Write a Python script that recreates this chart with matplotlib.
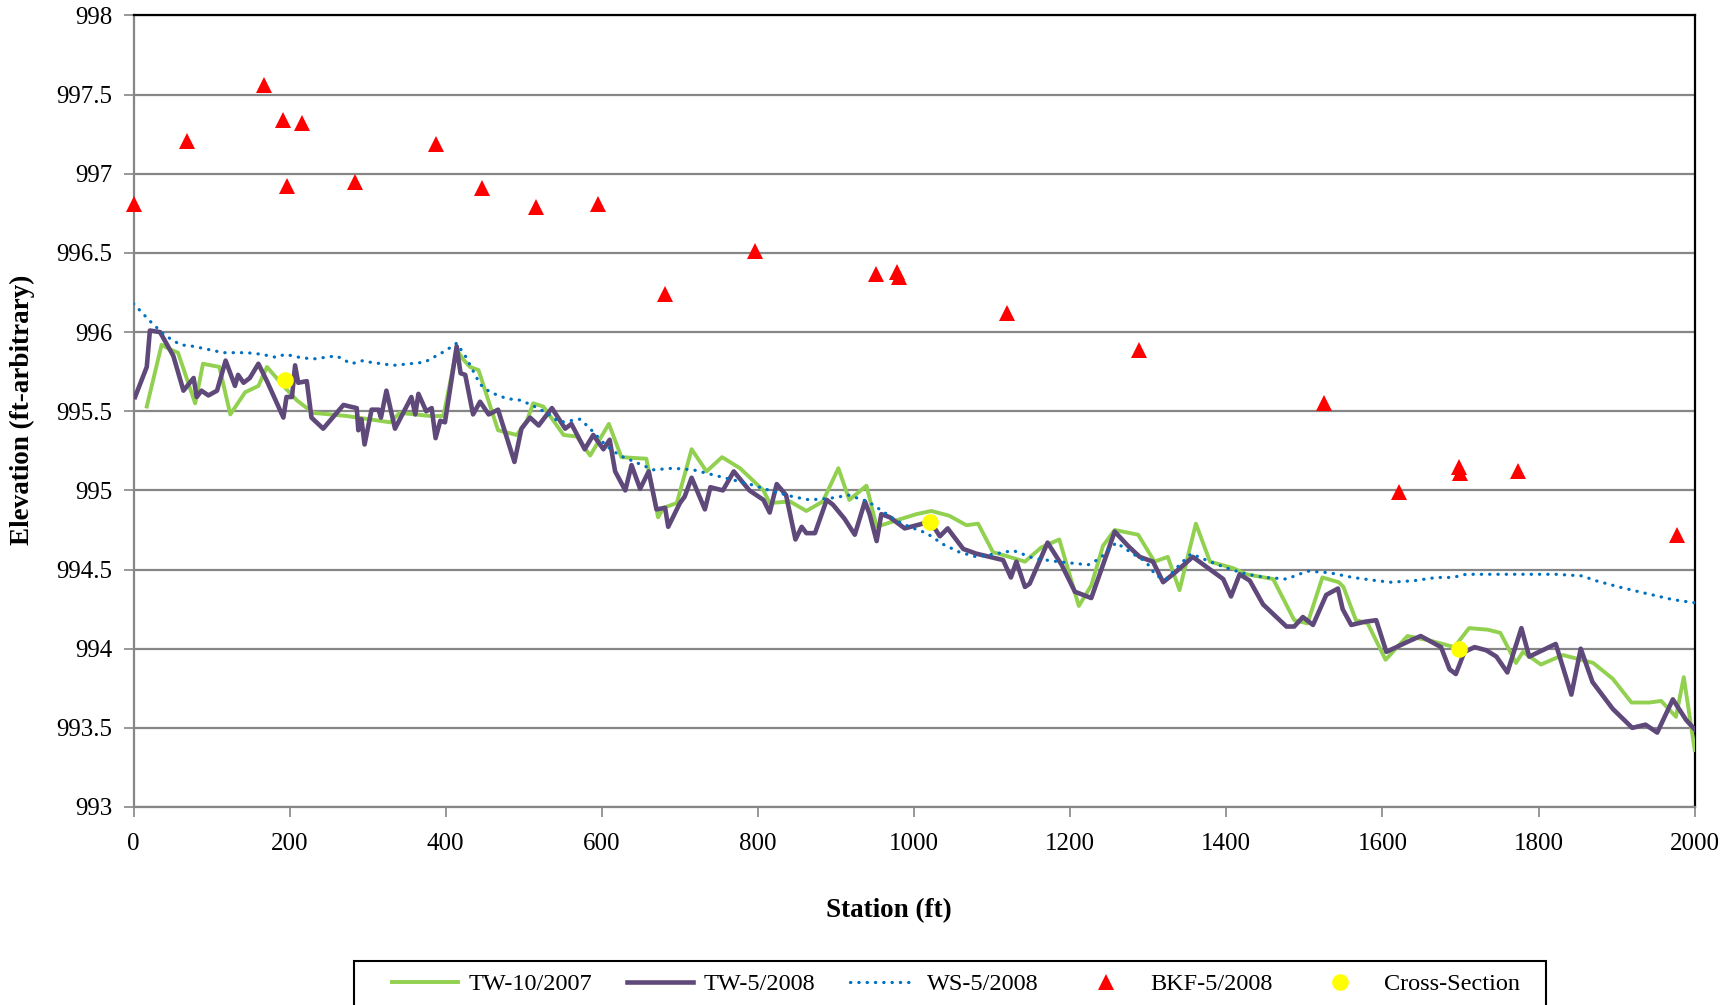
import matplotlib
matplotlib.use("Agg")
import matplotlib.pyplot as plt
from matplotlib.patches import Rectangle
from matplotlib.ticker import FormatStrFormatter

plt.rcParams['font.family'] = ['Liberation Serif', 'DejaVu Serif']

# ---------------- data ----------------
tw2007_sta = [17, 36, 47, 57, 79, 89, 110, 124, 143, 160, 171, 192, 209, 230, 273, 329, 341, 380,
              397, 414, 422, 431, 442, 467, 491, 504, 512, 525, 551, 568, 585, 609, 625, 657, 672,
              679, 696, 715, 734, 754, 777, 807, 815, 841, 862, 883, 903, 917, 939, 952, 977, 1003,
              1022, 1045, 1067, 1082, 1101, 1122, 1142, 1163, 1186, 1211, 1227, 1242, 1257, 1287,
              1308, 1325, 1340, 1361, 1379, 1408, 1426, 1460, 1487, 1504, 1523, 1544, 1550, 1566,
              1581, 1604, 1632, 1662, 1692, 1711, 1735, 1751, 1771, 1780, 1803, 1831, 1870, 1895,
              1919, 1942, 1957, 1976, 1986, 2000]
tw2007_elev = [995.53, 995.92, 995.89, 995.87, 995.55, 995.80, 995.78, 995.48, 995.62, 995.66, 995.78,
               995.66, 995.57, 995.49, 995.47, 995.43, 995.49, 995.47, 995.47, 995.89, 995.83, 995.78,
               995.76, 995.38, 995.35, 995.44, 995.55, 995.53, 995.35, 995.34, 995.22, 995.42, 995.21,
               995.20, 994.83, 994.89, 994.92, 995.26, 995.12, 995.21, 995.14, 995.00, 994.92, 994.93,
               994.87, 994.93, 995.14, 994.94, 995.03, 994.77, 994.81, 994.85, 994.87, 994.84, 994.78,
               994.79, 994.61, 994.58, 994.55, 994.64, 994.69, 994.27, 994.40, 994.65, 994.75, 994.72,
               994.55, 994.58, 994.37, 994.79, 994.55, 994.51, 994.47, 994.44, 994.18, 994.16, 994.45,
               994.42, 994.39, 994.18, 994.16, 993.93, 994.08, 994.05, 994.01, 994.13, 994.12, 994.10,
               993.91, 993.98, 993.90, 993.96, 993.91, 993.81, 993.66, 993.66, 993.67, 993.57, 993.82,
               993.36]

tw2008_sta = [2, 17, 21, 34, 51, 64, 77, 81, 87, 96, 107, 118, 130, 134, 141, 149, 160, 171, 192, 196,
              203, 207, 211, 222, 228, 243, 269, 277, 286, 288, 292, 296, 305, 314, 317, 324, 335, 356,
              361, 365, 375, 382, 387, 393, 399, 414, 419, 425, 435, 444, 455, 467, 488, 497, 508, 519,
              536, 553, 561, 578, 589, 602, 610, 617, 630, 638, 649, 660, 670, 681, 685, 700, 706, 715,
              732, 739, 755, 769, 789, 807, 815, 824, 836, 848, 856, 862, 873, 888, 896, 911, 924, 937,
              943, 952, 958, 969, 988, 1011, 1020, 1033, 1043, 1063, 1080, 1097, 1114, 1124, 1131, 1142,
              1148, 1171, 1189, 1206, 1227, 1257, 1274, 1289, 1306, 1319, 1334, 1357, 1396, 1406, 1417,
              1430, 1447, 1477, 1487, 1498, 1511, 1528, 1543, 1549, 1560, 1577, 1592, 1605, 1635, 1649,
              1675, 1686, 1694, 1705, 1718, 1733, 1746, 1760, 1778, 1788, 1822, 1842, 1854, 1869, 1895,
              1920, 1937, 1952, 1972, 1989, 2000]
tw2008_elev = [995.59, 995.78, 996.01, 996.00, 995.85, 995.63, 995.71, 995.59, 995.63, 995.60, 995.63,
               995.82, 995.66, 995.73, 995.68, 995.71, 995.80, 995.69, 995.46, 995.59, 995.59, 995.79,
               995.68, 995.69, 995.46, 995.39, 995.54, 995.53, 995.52, 995.38, 995.45, 995.29, 995.51,
               995.51, 995.46, 995.63, 995.39, 995.59, 995.48, 995.61, 995.50, 995.52, 995.33, 995.44,
               995.43, 995.91, 995.74, 995.73, 995.48, 995.56, 995.48, 995.51, 995.18, 995.39, 995.46,
               995.41, 995.52, 995.39, 995.42, 995.26, 995.35, 995.26, 995.32, 995.12, 995.00, 995.16,
               995.01, 995.12, 994.88, 994.89, 994.77, 994.92, 994.96, 995.08, 994.88, 995.02, 995.00,
               995.12, 995.00, 994.94, 994.86, 995.04, 994.97, 994.69, 994.77, 994.73, 994.73, 994.94,
               994.91, 994.82, 994.72, 994.93, 994.85, 994.68, 994.85, 994.83, 994.76, 994.79, 994.81,
               994.71, 994.76, 994.63, 994.60, 994.58, 994.56, 994.45, 994.55, 994.39, 994.41, 994.67,
               994.53, 994.36, 994.32, 994.74, 994.65, 994.58, 994.55, 994.42, 994.48, 994.58, 994.44,
               994.33, 994.47, 994.43, 994.28, 994.14, 994.14, 994.20, 994.15, 994.34, 994.38, 994.25,
               994.15, 994.17, 994.18, 993.98, 994.05, 994.08, 994.01, 993.87, 993.84, 993.98, 994.01,
               993.99, 993.95, 993.85, 994.13, 993.95, 994.03, 993.71, 994.00, 993.79, 993.62, 993.50,
               993.52, 993.47, 993.68, 993.55, 993.49]

ws2008_sta = [0, 21, 40, 60, 77, 96, 115, 145, 164, 183, 194, 213, 230, 260, 279, 294, 303, 333, 354,
              373, 399, 414, 425, 444, 457, 478, 495, 510, 529, 546, 572, 583, 606, 623, 647, 666, 691,
              717, 749, 789, 815, 845, 866, 892, 917, 928, 941, 956, 977, 994, 1016, 1037, 1058, 1080,
              1105, 1127, 1154, 1184, 1223, 1238, 1259, 1280, 1297, 1310, 1323, 1340, 1355, 1374, 1400,
              1426, 1451, 1477, 1504, 1532, 1562, 1592, 1611, 1641, 1669, 1690, 1707, 1737, 1780, 1822,
              1856, 1873, 1903, 1937, 1972, 2000]
ws2008_elev = [996.18, 996.07, 995.98, 995.92, 995.91, 995.89, 995.87, 995.87, 995.86, 995.84, 995.86,
               995.84, 995.83, 995.85, 995.80, 995.82, 995.81, 995.79, 995.80, 995.81, 995.88, 995.93,
               995.85, 995.67, 995.62, 995.58, 995.57, 995.54, 995.49, 995.43, 995.45, 995.40, 995.28,
               995.22, 995.17, 995.13, 995.14, 995.13, 995.09, 995.04, 995.00, 994.96, 994.94, 994.95,
               994.97, 994.95, 994.93, 994.88, 994.81, 994.77, 994.73, 994.66, 994.61, 994.58, 994.60,
               994.62, 994.57, 994.55, 994.53, 994.57, 994.67, 994.60, 994.55, 994.46, 994.44, 994.53,
               994.60, 994.56, 994.51, 994.47, 994.45, 994.44, 994.49, 994.48, 994.45, 994.43, 994.42,
               994.43, 994.45, 994.45, 994.47, 994.47, 994.47, 994.47, 994.46, 994.43, 994.39, 994.35,
               994.31, 994.29]

bkf_sta = [1, 68, 167, 192, 197, 216, 284, 387, 447, 515, 595, 681, 796, 951, 978, 981, 1119, 1288,
           1525, 1621, 1698, 1699, 1774, 1977]
bkf_elev = [996.81, 997.21, 997.56, 997.34, 996.92, 997.32, 996.95, 997.19, 996.91, 996.79, 996.81,
            996.24, 996.51, 996.37, 996.38, 996.35, 996.12, 995.89, 995.55, 994.99, 995.15, 995.11,
            995.12, 994.72]

xs_sta = [194, 1021, 1698]
xs_elev = [995.70, 994.80, 994.00]

x_ticks = list(range(0, 2001, 200))
y_ticks = [993, 993.5, 994, 994.5, 995, 995.5, 996, 996.5, 997, 997.5, 998]

# ---------------- figure ----------------
W, H = 1730, 1005
fig = plt.figure(figsize=(W / 100, H / 100), dpi=100)
L, R, T, B = 133.5, 1694.7, 15.5, 807
ax = fig.add_axes([L / W, 1 - B / H, (R - L) / W, (B - T) / H])

grid_c = '#868686'
ax.set_xlim(0, 2000)
ax.set_ylim(993, 998)
ax.set_yticks(y_ticks)
ax.set_xticks(x_ticks)
ax.yaxis.set_major_formatter(FormatStrFormatter('%g'))
ax.grid(axis='y', color=grid_c, linewidth=1.6, zorder=0)
ax.set_axisbelow(True)

for side in ['top', 'right']:
    ax.spines[side].set_color('black')
    ax.spines[side].set_linewidth(1.6)
for side in ['left', 'bottom']:
    ax.spines[side].set_color(grid_c)
    ax.spines[side].set_linewidth(1.6)

ax.tick_params(axis='both', direction='out', length=7, width=1.2, color=grid_c,
               labelsize=18, labelcolor='black')
ax.tick_params(axis='y', pad=8)
ax.tick_params(axis='x', pad=12)

ax.plot(tw2007_sta, tw2007_elev, color='#92D050', linewidth=2.8, label='TW-10/2007',
        zorder=3)
ax.plot(tw2008_sta, tw2008_elev, color='#5F497A', linewidth=3.3, label='TW-5/2008',
        zorder=4)
ax.plot(ws2008_sta, ws2008_elev, color='#0070C0', linewidth=2.3, linestyle=(0, (0.1, 2.5)),
        dash_capstyle='round', label='WS-5/2008', zorder=5)
ax.plot(bkf_sta, bkf_elev, linestyle='none', marker='^', markersize=11, color='#FF0000',
        markeredgewidth=0, label='BKF-5/2008', zorder=6, clip_on=False)
ax.plot(xs_sta, xs_elev, linestyle='none', marker='o', markersize=12, color='#FFFF00',
        markeredgewidth=0, label='Cross-Section', zorder=7)

fig.text(889 / W, 1 - 911 / H, 'Station (ft)', ha='center', va='center',
         fontsize=19.5, fontweight='bold')
fig.text(22 / W, 1 - 410 / H, 'Elevation (ft-arbitrary)', ha='center', va='center',
         rotation=90, fontsize=19.5, fontweight='bold')

# legend frame (extends past the bottom edge, as in the reference)
frame_x0, frame_x1, frame_top = 354, 1546, 961
fig.patches.append(Rectangle((frame_x0 / W, -0.05), (frame_x1 - frame_x0) / W,
                             1 - frame_top / H + 0.05, transform=fig.transFigure,
                             facecolor='white', edgecolor='black', linewidth=1.5, zorder=1))
leg_x0, leg_x1 = 380, 1532
leg = fig.legend(loc='upper left', ncol=5, mode='expand',
                 bbox_to_anchor=(leg_x0 / W, 1 - frame_top / H, (leg_x1 - leg_x0) / W, 0.0001),
                 fontsize=17.5, frameon=False,
                 handlelength=2.7, handletextpad=0.45, borderpad=0.5, borderaxespad=0)
leg.set_zorder(2)

fig.savefig('out.png', dpi=100)
